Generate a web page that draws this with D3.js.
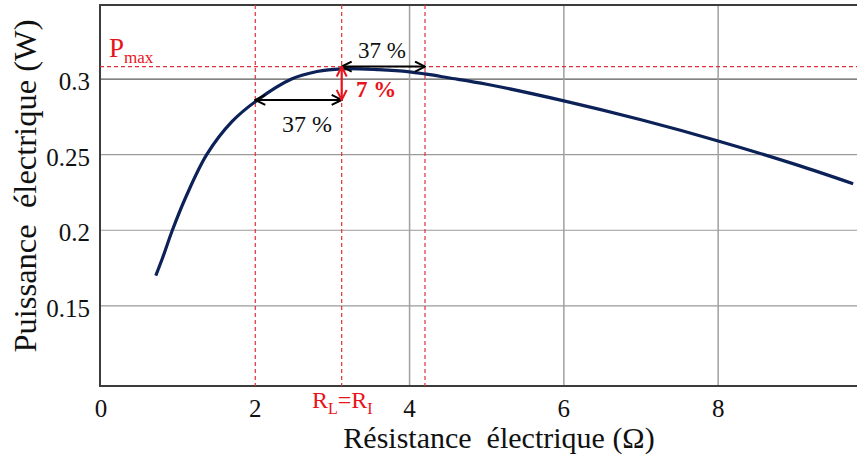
<!DOCTYPE html>
<html><head><meta charset="utf-8">
<script src="https://cdn.jsdelivr.net/npm/d3@7"></script>
<style>
html,body{margin:0;padding:0;background:#fff;}
svg{display:block;}
svg text{font-family:"Liberation Serif",serif;}
</style></head>
<body>
<svg id="chart" width="857" height="457"></svg>
<script>
// Data
const resistance = [0.71, 0.8, 0.925, 1.1, 1.37, 1.7, 2.03, 2.47, 2.8, 3.12, 3.6, 4.0, 4.2, 4.5, 5.0, 6.0, 7.0, 8.0, 9.0, 9.75];
const power      = [0.170, 0.182, 0.200, 0.222, 0.250, 0.272, 0.2862, 0.300, 0.305, 0.3068, 0.3062, 0.3048, 0.3034, 0.3009, 0.2966, 0.2856, 0.2731, 0.2591, 0.2436, 0.2308];
const xTicks = [0, 2, 4, 6, 8];
const yTicks = [0.15, 0.2, 0.25, 0.3];
const xTickLabels = ["0", "2", "4", "6", "8"];
const yTickLabels = ["0.15", "0.2", "0.25", "0.3"];
const refR = [2.0, 3.12, 4.2];      // red dashed verticals
const pMax = 0.3083;                // red dashed horizontal
const pAt2 = 0.2862;
const rOpt = 3.12;

(function(){
const svg = d3.select("#chart");
const x = d3.scaleLinear().domain([0, 9.8]).range([101, 857]);
const y = d3.scaleLinear().domain([0.097, 0.349]).range([386, 5]);
const pl = 100, pt = 5, pb = 386, pr = 857;
const serif = "Liberation Serif";

const defs = svg.append("defs");
function marker(id, color){
  defs.append("marker").attr("id", id).attr("viewBox","0 0 12 12")
    .attr("refX", 11).attr("refY", 6).attr("markerWidth", 12).attr("markerHeight", 12)
    .attr("markerUnits","userSpaceOnUse").attr("orient","auto-start-reverse")
    .append("path").attr("d","M1,1 L11,6 L1,11").attr("fill","none")
    .attr("stroke", color).attr("stroke-width", 2);
}
marker("ab","#000");
marker("ar","#e8141c");

// gridlines
svg.append("g").selectAll("line").data(yTicks).join("line")
  .attr("x1", pl).attr("x2", pr)
  .attr("y1", d => y(d)).attr("y2", d => y(d))
  .attr("stroke", d => d === 0.3 ? "#5a5a5a" : "#9a9a9a").attr("stroke-width", 1.2);
svg.append("g").selectAll("line").data(xTicks.filter(d => d >= 4)).join("line")
  .attr("x1", d => x(d)).attr("x2", d => x(d))
  .attr("y1", pt).attr("y2", pb)
  .attr("stroke", "#a0a0a0").attr("stroke-width", 1.5);

// frame
svg.append("path").attr("d", `M${pr},${pt} H${pl} V${pb} H${pr}`)
  .attr("fill","none").attr("stroke","#3c3c3c").attr("stroke-width", 2);

// red dashed reference lines
svg.append("g").selectAll("line").data(refR).join("line")
  .attr("x1", d => x(d)).attr("x2", d => x(d)).attr("y1", pt).attr("y2", pb)
  .attr("stroke","#e0303a").attr("stroke-width",1.2).attr("stroke-dasharray","4,3");
svg.append("line").attr("x1", pl).attr("x2", pr).attr("y1", y(pMax)).attr("y2", y(pMax))
  .attr("stroke","#e0303a").attr("stroke-width",1.2).attr("stroke-dasharray","4,3");

// curve
const pts = resistance.map((r,i) => [r, power[i]]);
svg.append("path").datum(pts)
  .attr("d", d3.line().x(d => x(d[0])).y(d => y(d[1])).curve(d3.curveCatmullRom.alpha(0.5)))
  .attr("fill","none").attr("stroke","#0c2157").attr("stroke-width",3.2);

// arrows
svg.append("line").attr("x1", x(2.0)).attr("x2", x(rOpt)).attr("y1", y(pAt2)).attr("y2", y(pAt2))
  .attr("stroke","#000").attr("stroke-width",2).attr("marker-start","url(#ab)").attr("marker-end","url(#ab)");
svg.append("line").attr("x1", x(rOpt)).attr("x2", x(4.2)).attr("y1", y(pMax)).attr("y2", y(pMax))
  .attr("stroke","#000").attr("stroke-width",2).attr("marker-start","url(#ab)").attr("marker-end","url(#ab)");
svg.append("line").attr("x1", x(rOpt)).attr("x2", x(rOpt)).attr("y1", y(pMax)).attr("y2", y(pAt2))
  .attr("stroke","#e8141c").attr("stroke-width",2.2).attr("marker-start","url(#ar)").attr("marker-end","url(#ar)");

// tick labels
svg.append("g").selectAll("text").data(xTicks).join("text")
  .attr("x", d => x(d)).attr("y", 417).attr("text-anchor","middle").attr("font-family", serif)
  .attr("font-size", 25).attr("fill","#111").text((d,i) => xTickLabels[i]);
svg.append("g").selectAll("text").data(yTicks).join("text")
  .attr("x", 90).attr("y", d => y(d) + 11).attr("text-anchor","end").attr("font-family", serif)
  .attr("font-size", 25).attr("fill","#111").text((d,i) => yTickLabels[i]);

// axis titles
svg.append("text").attr("x", 499).attr("y", 448).attr("text-anchor","middle").attr("font-family", serif)
  .attr("font-size", 30).attr("fill","#111").style("white-space","pre")
  .text("Résistance  électrique (Ω)");
svg.append("text").attr("transform","translate(36,186) rotate(-90)").attr("text-anchor","middle")
  .attr("font-family", serif)
  .attr("font-size", 32.5).attr("fill","#111").style("white-space","pre")
  .text("Puissance  électrique (W)");

// annotations
const pm = svg.append("text").attr("x", 109).attr("y", 57).attr("fill","#e8141c")
  .attr("font-family", serif).attr("font-size", 27);
pm.append("tspan").text("P");
pm.append("tspan").attr("font-size", 17).attr("dy", 6).text("max");

const rl = svg.append("text").attr("x", 312).attr("y", 408).attr("fill","#e8141c")
  .attr("font-family", serif).attr("font-size", 24);
rl.append("tspan").text("R");
rl.append("tspan").attr("font-size", 16).attr("dy", 6).text("L");
rl.append("tspan").attr("dy", -6).text("=R");
rl.append("tspan").attr("font-size", 16).attr("dy", 6).text("I");

svg.append("text").attr("x", 282).attr("y", 132).attr("font-family", serif).attr("font-size", 24).attr("fill","#111").text("37 %");
svg.append("text").attr("x", 358).attr("y", 58).attr("font-family", serif).attr("font-size", 23).attr("fill","#111").text("37 %");
svg.append("text").attr("x", 356).attr("y", 97).attr("font-family", serif).attr("font-size", 23).attr("font-weight","bold")
  .attr("fill","#e8141c").text("7 %");
})();
</script>
</body></html>
